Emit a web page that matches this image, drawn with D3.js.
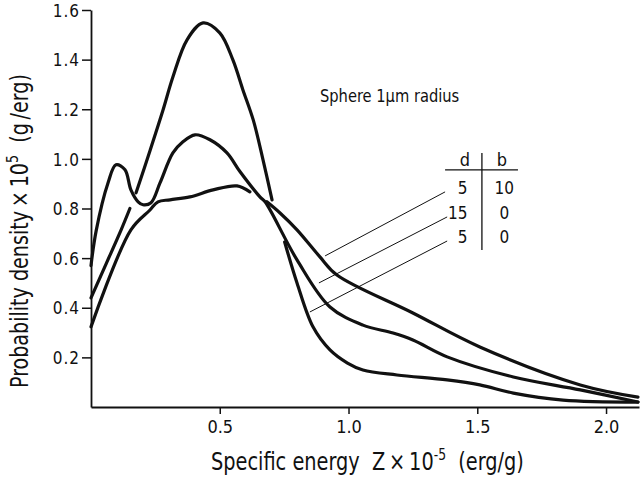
<!DOCTYPE html>
<html>
<head>
<meta charset="utf-8">
<script src="https://cdn.jsdelivr.net/npm/d3@7"></script>
<style>
  body { margin: 0; background: #fff; }
  svg text { font-family: 'Liberation Sans Narrow', 'DejaVu Sans Condensed', 'DejaVu Sans', sans-serif; fill: #111; }
</style>
</head>
<body>
<svg width="642" height="479"></svg>
<script>
// specific energy (x 10^-5 erg/g) and probability density (x 10^5 g/erg), null = gap in the drawn line
const zD5B0 = [0, 0.06, 0.117, 0.151, null, 0.175, 0.23, 0.28, 0.318, 0.373, 0.435, 0.50, 0.551, 0.59, 0.63, 0.668, 0.703,
  null, 0.752, 0.80, 0.862, 0.928, 0.996, 1.056, 1.188, 1.383, 1.51, 1.64, 1.833, 2.124];
const pD5B0 = [0.44, 0.58, 0.714, 0.80, null, 0.863, 1.036, 1.198, 1.33, 1.48, 1.548, 1.508, 1.399, 1.278, 1.157, 0.996, 0.835,
  null, 0.665, 0.50, 0.323, 0.23, 0.177, 0.149, 0.129, 0.109, 0.089, 0.056, 0.028, 0.02];

const zD15B0 = [0, 0.02, 0.066, 0.097, 0.132, 0.155, 0.183, 0.202, 0.233, 0.268, 0.318, 0.357, 0.404, 0.462, 0.528, 0.579,
  0.656, 0.676, 0.80, 0.928, 1.056, 1.173, 1.25, 1.383, 1.64, 1.9, 2.124];
const pD15B0 = [0.57, 0.71, 0.903, 0.976, 0.956, 0.875, 0.827, 0.815, 0.823, 0.903, 1.024, 1.069, 1.097, 1.077, 1.024, 0.948,
  0.847, 0.827, 0.593, 0.403, 0.33, 0.298, 0.27, 0.202, 0.121, 0.069, 0.02];

const zD5B10 = [0, 0.155, 0.229, 0.26, 0.307, 0.384, 0.474, 0.567, 0.617, null, 0.683, 0.734, 0.80, 0.889, 0.955, 1.25, 1.51, 1.9, 2.124];
const pD5B10 = [0.323, 0.714, 0.794, 0.827, 0.835, 0.847, 0.875, 0.891, 0.867, null, 0.827, 0.782, 0.714, 0.605, 0.532, 0.379, 0.242, 0.089, 0.04];

const xTicks = [0.5, 1.0, 1.5, 2.0];
const yTicks = [0.2, 0.4, 0.6, 0.8, 1.0, 1.2, 1.4, 1.6];

const legendD = ['5', '15', '5'];
const legendB = ['10', '0', '0'];
const leaderFrom = [[1.375, 0.867], [1.383, 0.766], [1.383, 0.669]];
const leaderTo = [[0.909, 0.609], [0.885, 0.50], [0.85, 0.383]];

let svg = d3.select('svg');
let x = d3.scaleLinear().domain([0, 2.128]).range([91, 639]);
let y = d3.scaleLinear().domain([0, 1.6]).range([407, 10]);

let line = d3.line()
  .defined(function(d) { return d[1] != null; })
  .x(function(d) { return x(d[0]); })
  .y(function(d) { return y(d[1]); })
  .curve(d3.curveCatmullRom.alpha(0.5));

// axes
let gx = svg.append('g')
  .attr('transform', 'translate(0,' + y(0) + ')')
  .call(d3.axisBottom(x).tickValues(xTicks).tickFormat(d3.format('.1f')).tickSize(7).tickSizeOuter(0));
gx.select('.domain').attr('stroke', '#111').attr('stroke-width', 1.8);
gx.selectAll('.tick line').attr('stroke', '#111').attr('stroke-width', 1.5);
gx.selectAll('.tick text').attr('y', 26).attr('dy', null).attr('font-size', 18).attr('fill', '#111');

let gy = svg.append('g')
  .attr('transform', 'translate(' + x(0) + ',0)')
  .call(d3.axisLeft(y).tickValues(yTicks).tickFormat(d3.format('.1f')).tickSize(9).tickSizeOuter(0));
gy.select('.domain').attr('stroke', '#111').attr('stroke-width', 1.8);
gy.selectAll('.tick line').attr('stroke', '#111').attr('stroke-width', 1.5);
gy.selectAll('.tick text').attr('x', -11).attr('dy', '0.36em').attr('font-size', 17)
  .attr('letter-spacing', 1).attr('fill', '#111');

// curves
[[zD5B0, pD5B0], [zD15B0, pD15B0], [zD5B10, pD5B10]].forEach(function(s) {
  svg.append('path')
    .datum(d3.zip(s[0], s[1]))
    .attr('fill', 'none')
    .attr('stroke', '#111')
    .attr('stroke-width', 3.2)
    .attr('stroke-linejoin', 'round')
    .attr('stroke-linecap', 'round')
    .attr('d', line);
});

// leader lines and d/b table
leaderFrom.forEach(function(a, i) {
  svg.append('line')
    .attr('x1', x(a[0])).attr('y1', y(a[1]))
    .attr('x2', x(leaderTo[i][0])).attr('y2', y(leaderTo[i][1]))
    .attr('stroke', '#111').attr('stroke-width', 1);
});
svg.append('line').attr('x1', x(1.375)).attr('x2', x(1.658)).attr('y1', y(0.956)).attr('y2', y(0.956))
  .attr('stroke', '#111').attr('stroke-width', 1.3);
svg.append('line').attr('x1', x(1.518)).attr('x2', x(1.518)).attr('y1', y(1.024)).attr('y2', y(0.633))
  .attr('stroke', '#111').attr('stroke-width', 1.3);
svg.append('text').attr('x', x(1.452)).attr('y', y(0.972)).attr('text-anchor', 'middle').attr('font-size', 18).text('d');
svg.append('text').attr('x', x(1.596)).attr('y', y(0.972)).attr('text-anchor', 'middle').attr('font-size', 18).text('b');
let rowP = [0.859, 0.758, 0.661];
legendD.forEach(function(t, i) {
  svg.append('text').attr('x', x(1.462)).attr('y', y(rowP[i])).attr('text-anchor', 'end').attr('font-size', 17).text(t);
  svg.append('text').attr('x', x(1.605)).attr('y', y(rowP[i])).attr('text-anchor', 'middle').attr('font-size', 17).text(legendB[i]);
});

svg.append('text').attr('transform', 'translate(' + x(0.889) + ',' + y(1.23) + ') scale(0.96,1)')
  .attr('font-size', 17).text('Sphere 1\u03bcm radius');

// axis titles, squeezed to the narrow lettering of the original
let xt = svg.append('text').attr('transform', 'translate(211,470) scale(0.86,1)').attr('font-size', 25);
xt.append('tspan').text('Specific energy\u00a0\u00a0Z\u2009\u00d7\u200910');
xt.append('tspan').attr('dy', -10).attr('font-size', 16).text('-5');
xt.append('tspan').attr('dy', 10).text('\u00a0\u00a0(erg/g)');

let yt = svg.append('text').attr('transform', 'translate(28,388) rotate(-90) scale(0.885,1)').attr('font-size', 24);
yt.append('tspan').text('Probability density\u2009\u00d7\u200910');
yt.append('tspan').attr('dy', -10).attr('font-size', 16).text('5');
yt.append('tspan').attr('dy', 10).text('\u00a0\u00a0(g\u2009/erg)');
</script>
</body>
</html>
